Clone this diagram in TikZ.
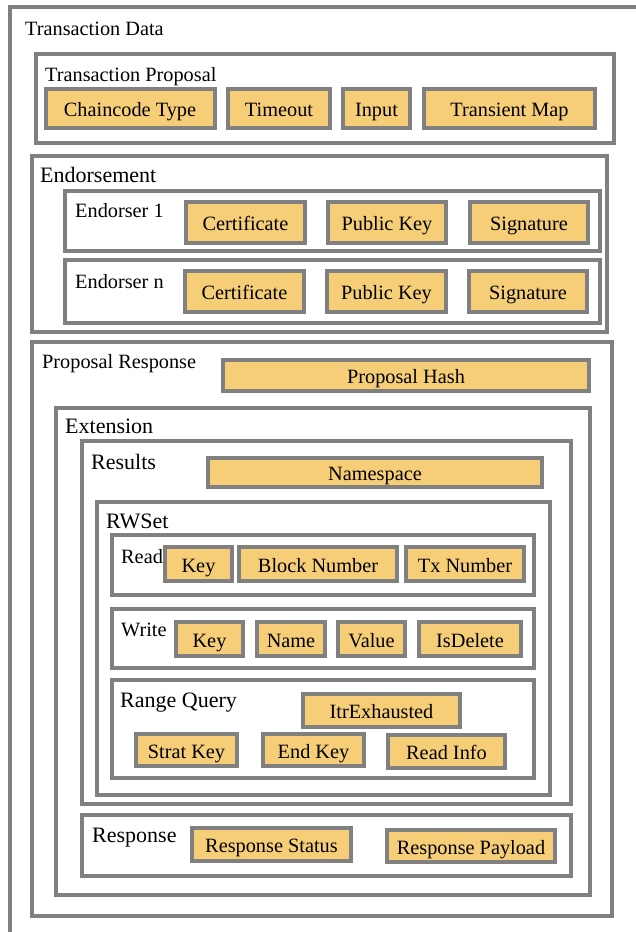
\documentclass[tikz,border=0pt]{standalone}
\usepackage{fontspec}
\setmainfont{Liberation Serif}
\newfontfamily\diagfont{Liberation Serif}
\definecolor{framegray}{RGB}{128,128,128}
\definecolor{fieldyellow}{RGB}{246,206,120}
\begin{document}
\begin{tikzpicture}[
    x=1pt, y=-1pt,
    frame/.style={draw=framegray,line width=4pt},
    field/.style={rectangle,draw=framegray,line width=4pt,fill=fieldyellow,inner sep=0pt,text height=16pt,text depth=0pt},
    title/.style={anchor=base west,inner sep=0pt},
    bigtitle/.style={title,font=\diagfont\fontsize{22}{26}\selectfont},
    every node/.style={font=\diagfont\fontsize{20.3}{24}\selectfont}
]
\clip (0,0) rectangle (636,932);

% Ramki
\draw[frame] (10,7) rectangle (680,980);
\draw[frame] (35.5,53.5) rectangle (613.5,142.5);
\draw[frame] (31.5,155.5) rectangle (606.5,331.5);
\draw[frame] (65,191) rectangle (600,250.5);
\draw[frame] (65,260) rectangle (600,322.5);
\draw[frame] (31.5,341.5) rectangle (611.5,915.5);
\draw[frame] (56,407.5) rectangle (590,895);
\draw[frame] (81.5,441) rectangle (570.5,803.5);
\draw[frame] (96.5,502) rectangle (550,794.5);
\draw[frame] (111.5,535) rectangle (534,595);
\draw[frame] (111.5,608.5) rectangle (534,667.5);
\draw[frame] (111.5,680) rectangle (534,778);
\draw[frame] (81.5,815) rectangle (570.5,876);

% Nazwy ramek
\node[title] (td) at (25,35) {Transaction Data};
\node[title] (tp) at (45,81) {Transaction Proposal};
\node[bigtitle] (en) at (40,182) {Endorsement};
\node[title] (e1) at (75,217) {Endorser 1};
\node[title] (e2) at (75,288) {Endorser n};
\node[title] (pr) at (42,368) {Proposal Response};
\node[bigtitle] (ext) at (65,433) {Extension};
\node[bigtitle] (res) at (91,469) {Results};
\node[bigtitle] (rw) at (106,528) {RWSet};
\node[title] (rd) at (121,563) {Read};
\node[title] (wr) at (121,636) {Write};
\node[bigtitle] (rq) at (120,707) {Range Query};
\node[bigtitle] (rsp) at (92,842) {Response};

% Transaction Proposal
\node[field,minimum width=169pt,minimum height=39pt] (cc) at (130,108.5) {Chaincode Type};
\node[field,minimum width=102pt,minimum height=39pt] (to) at (279,108.5) {Timeout};
\node[field,minimum width=67pt,minimum height=39pt] (in) at (376.5,108.5) {Input};
\node[field,minimum width=171pt,minimum height=39pt] (tm) at (509.5,108.5) {Transient Map};

% Endorser 1 / n
\node[field,minimum width=119pt,minimum height=41pt] (cert1) at (245.5,222.5) {Certificate};
\node[field,minimum width=118pt,minimum height=41pt] (pk1) at (387,222.5) {Public Key};
\node[field,minimum width=118pt,minimum height=41pt] (sig1) at (529,222.5) {Signature};
\node[field,minimum width=119pt,minimum height=41pt] (cert2) at (244.5,291.5) {Certificate};
\node[field,minimum width=119pt,minimum height=41pt] (pk2) at (386.5,291.5) {Public Key};
\node[field,minimum width=118pt,minimum height=41pt] (sig2) at (528,291.5) {Signature};

% Proposal Response
\node[field,minimum width=366pt,minimum height=31pt] (ph) at (406,375.5) {Proposal Hash};
\node[field,minimum width=334pt,minimum height=29pt] (ns) at (375,472.5) {Namespace};

% Read
\node[field,minimum width=67pt,minimum height=34pt] (rkey) at (198.5,564) {Key};
\node[field,minimum width=158pt,minimum height=34pt] (bn) at (318,564) {Block Number};
\node[field,minimum width=118pt,minimum height=34pt] (tx) at (465,564) {Tx Number};

% Write
\node[field,minimum width=67pt,minimum height=34pt] (wkey) at (209.5,639) {Key};
\node[field,minimum width=68pt,minimum height=34pt] (nm) at (291,639) {Name};
\node[field,minimum width=67pt,minimum height=34pt] (val) at (371.5,639) {Value};
\node[field,minimum width=102pt,minimum height=34pt] (del) at (470,639) {IsDelete};

% Range Query
\node[field,minimum width=157pt,minimum height=33pt] (itr) at (381.5,710.5) {ItrExhausted};
\node[field,minimum width=101pt,minimum height=32pt] (sk) at (186.5,750) {Strat Key};
\node[field,minimum width=101pt,minimum height=32pt] (ek) at (313.5,750) {End Key};
\node[field,minimum width=117pt,minimum height=33pt] (ri) at (446.5,751.5) {Read Info};

% Response
\node[field,minimum width=159pt,minimum height=33pt] (rs) at (271.5,844.5) {Response Status};
\node[field,minimum width=168pt,minimum height=32pt] (rp) at (471,846) {Response Payload};

\end{tikzpicture}
\end{document}
